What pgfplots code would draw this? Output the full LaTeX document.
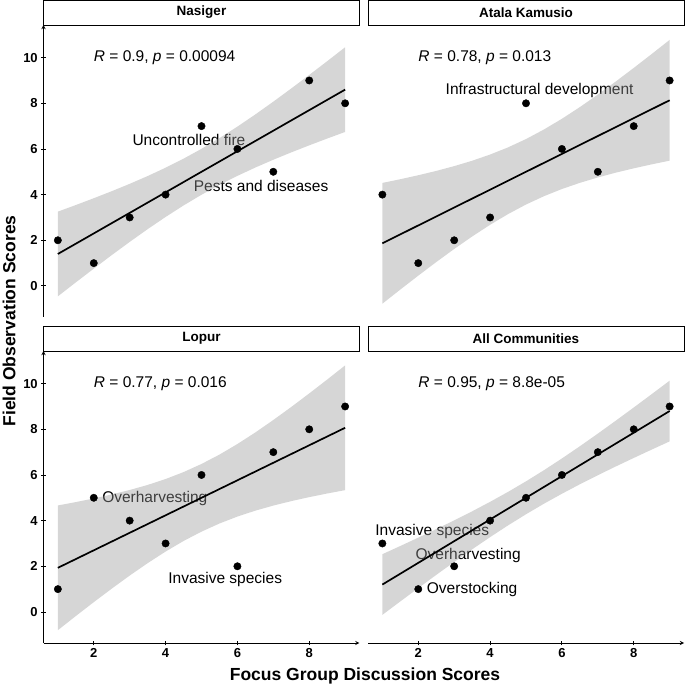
\documentclass[border=0pt]{standalone}
\usepackage{pgfplots}
\pgfplotsset{compat=1.18}
\usepackage{fontspec}
\setmainfont{Liberation Sans}

\newcommand\tickfont{\bfseries\fontsize{13}{13}\selectfont}
\newcommand\stripfont{\bfseries\fontsize{13.5}{14}\selectfont}
\newcommand\lblfont{\fontsize{15.5}{17}\selectfont}
\newcommand\titlefont{\bfseries\fontsize{17.5}{19}\selectfont}

\definecolor{ribbon}{gray}{0.6}

\pgfplotsset{
  panel/.style={
    scale only axis, width=316pt, height=292pt, anchor=south west,
    xmin=0.6, xmax=9.4, ymin=-1.36, ymax=11.43, clip=false,
    xtick={2,4,6,8}, ytick={0,2,4,6,8,10},
    tick align=outside, major tick length=4.5pt,
    tick style={black, line width=0.9pt},
    axis line style={black, line width=0.9pt, -},
    ticklabel style={font=\tickfont, text=black},
    /pgf/number format/assume math mode=true,
  },
  pts/.style={only marks, mark=*, mark size=3.7pt, black},
  band/.style={draw=none, fill=ribbon, fill opacity=0.4},
  regline/.style={black, line width=1.7pt, no marks},
}
\tikzset{strip/.style={line width=0.9pt, fill=white}}

\begin{document}
\begin{tikzpicture}
\path[use as bounding box] (0,0) rectangle (685pt,685pt);

% ---- Nasiger ----
\begin{axis}[panel, at={(43.5pt,368pt)}, axis y line=left, axis x line=none, xtick=\empty]
  \addplot[pts] coordinates {(1,2)(2,1)(3,3)(4,4)(5,7)(6,6)(7,5)(8,9)(9,8)};
  \node[font=\lblfont] at (axis cs:4.65,6.4) {Uncontrolled fire};
  \node[font=\lblfont] at (axis cs:6.66,4.4) {Pests and diseases};
  \addplot[band] coordinates {
    (1,3.255)(1.5,3.544)(2,3.842)(2.5,4.150)(3,4.472)(3.5,4.813)(4,5.179)(4.5,5.575)(5,6.006)
    (5.5,6.475)(6,6.979)(6.5,7.513)(7,8.072)(7.5,8.650)(8,9.242)(8.5,9.844)(9,10.455)
    (9,6.745)(8.5,6.456)(8,6.158)(7.5,5.850)(7,5.528)(6.5,5.187)(6,4.821)(5.5,4.425)
    (5,3.994)(4.5,3.525)(4,3.021)(3.5,2.487)(3,1.928)(2.5,1.350)(2,0.758)(1.5,0.156)(1,-0.455)};
  \addplot[regline] coordinates {(1,1.4)(9,8.6)};
  \node[anchor=west, inner sep=0, font=\lblfont] at (axis cs:2,10) {\textit{R} = 0.9, \textit{p} = 0.00094};
  \draw[strip] (rel axis cs:0,1) rectangle ([yshift=25pt]rel axis cs:1,1);
  \node[font=\stripfont] at ([yshift=12.5pt]rel axis cs:0.5,1) {Nasiger};
\end{axis}

% ---- Atala Kamusio ----
\begin{axis}[panel, at={(368pt,368pt)}, axis y line=none, axis x line=none, xtick=\empty, ytick=\empty]
  \addplot[pts] coordinates {(1,4)(2,1)(3,2)(4,3)(5,8)(6,6)(7,5)(8,7)(9,9)};
  \node[font=\lblfont] at (axis cs:5.38,8.55) {Infrastructural development};
  \addplot[band] coordinates {
    (1,4.512)(1.5,4.675)(2,4.849)(2.5,5.038)(3,5.248)(3.5,5.484)(4,5.755)(4.5,6.069)(5,6.434)
    (5.5,6.853)(6,7.322)(6.5,7.834)(7,8.381)(7.5,8.955)(8,9.549)(8.5,10.158)(9,10.778)
    (9,5.488)(8.5,5.325)(8,5.151)(7.5,4.962)(7,4.752)(6.5,4.516)(6,4.245)(5.5,3.931)
    (5,3.566)(4.5,3.147)(4,2.678)(3.5,2.166)(3,1.619)(2.5,1.045)(2,0.451)(1.5,-0.158)(1,-0.778)};
  \addplot[regline] coordinates {(1,1.867)(9,8.133)};
  \node[anchor=west, inner sep=0, font=\lblfont] at (axis cs:2,10) {\textit{R} = 0.78, \textit{p} = 0.013};
  \draw[strip] (rel axis cs:0,1) rectangle ([yshift=25pt]rel axis cs:1,1);
  \node[font=\stripfont] at ([yshift=12.5pt]rel axis cs:0.5,1) {Atala Kamusio};
\end{axis}

% ---- Lopur ----
\begin{axis}[panel, at={(43.5pt,42pt)}, axis y line=left, axis x line=bottom]
  \addplot[pts] coordinates {(1,1)(2,5)(3,4)(4,3)(5,6)(6,2)(7,7)(8,8)(9,9)};
  \node[font=\lblfont] at (axis cs:3.70,4.95) {Overharvesting};
  \node[font=\lblfont] at (axis cs:5.66,1.4) {Invasive species};
  \addplot[band] coordinates {
    (1,4.665)(1.5,4.812)(2,4.971)(2.5,5.146)(3,5.341)(3.5,5.563)(4,5.822)(4.5,6.126)(5,6.482)
    (5.5,6.892)(6,7.356)(6.5,7.863)(7,8.408)(7.5,8.979)(8,9.571)(8.5,10.179)(9,10.799)
    (9,5.335)(8.5,5.188)(8,5.029)(7.5,4.854)(7,4.659)(6.5,4.437)(6,4.178)(5.5,3.874)
    (5,3.518)(4.5,3.108)(4,2.645)(3.5,2.137)(3,1.593)(2.5,1.021)(2,0.429)(1.5,-0.179)(1,-0.799)};
  \addplot[regline] coordinates {(1,1.933)(9,8.067)};
  \node[anchor=west, inner sep=0, font=\lblfont] at (axis cs:2,10) {\textit{R} = 0.77, \textit{p} = 0.016};
  \draw[strip] (rel axis cs:0,1) rectangle ([yshift=25pt]rel axis cs:1,1);
  \node[font=\stripfont] at ([yshift=12.5pt]rel axis cs:0.5,1) {Lopur};
\end{axis}

% ---- All Communities ----
\begin{axis}[panel, at={(368pt,42pt)}, axis y line=none, axis x line=bottom, ytick=\empty]
  \addplot[pts] coordinates {(1,3)(2,1)(3,2)(4,4)(5,5)(6,6)(7,7)(8,8)(9,9)};
  \node[font=\lblfont] at (axis cs:2.39,3.51) {Invasive species};
  \node[font=\lblfont] at (axis cs:3.39,2.49) {Overharvesting};
  \node[font=\lblfont] at (axis cs:3.50,0.99) {Overstocking};
  \addplot[band] coordinates {
    (1,2.529)(1.5,2.889)(2,3.255)(2.5,3.628)(3,4.011)(3.5,4.408)(4,4.823)(4.5,5.259)(5,5.721)
    (5.5,6.209)(6,6.723)(6.5,7.258)(7,7.811)(7.5,8.378)(8,8.955)(8.5,9.539)(9,10.129)
    (9,7.471)(8.5,7.111)(8,6.745)(7.5,6.372)(7,5.989)(6.5,5.592)(6,5.177)(5.5,4.741)
    (5,4.279)(4.5,3.791)(4,3.277)(3.5,2.742)(3,2.189)(2.5,1.622)(2,1.045)(1.5,0.461)(1,-0.129)};
  \addplot[regline] coordinates {(1,1.2)(9,8.8)};
  \node[anchor=west, inner sep=0, font=\lblfont] at (axis cs:2,10) {\textit{R} = 0.95, \textit{p} = 8.8e-05};
  \draw[strip] (rel axis cs:0,1) rectangle ([yshift=25pt]rel axis cs:1,1);
  \node[font=\stripfont] at ([yshift=12.5pt]rel axis cs:0.5,1) {All Communities};
\end{axis}

\node[font=\titlefont] at (365pt,9pt) {Focus Group Discussion Scores};
\node[font=\titlefont, rotate=90] at (9pt,364pt) {Field Observation Scores};
\end{tikzpicture}
\end{document}
